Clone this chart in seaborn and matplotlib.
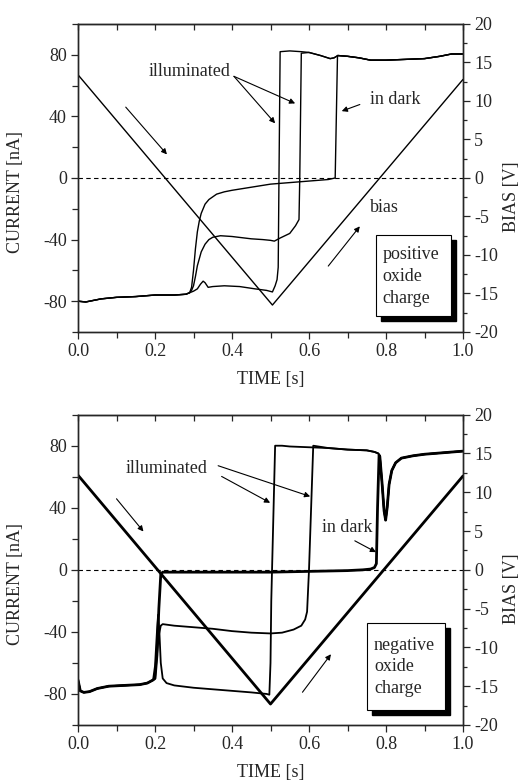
import numpy as np
import pandas as pd
import matplotlib
matplotlib.use("Agg")
import matplotlib.pyplot as plt
from matplotlib.patches import Rectangle
from matplotlib.ticker import MultipleLocator
import seaborn as sns

# ================================================================
# DATA
# ================================================================
# --- top panel: positive oxide charge ---
top_common_t = [0.0, 0.02, 0.04, 0.06, 0.10, 0.15, 0.20, 0.25, 0.28, 0.29]
top_common_i = [-80, -80.5, -79.5, -78.5, -77.5, -77, -76, -76, -75.5, -74.5]

top_dark_t = [0.295, 0.30, 0.305, 0.31, 0.315, 0.32, 0.33, 0.34, 0.36, 0.38, 0.40,
              0.45, 0.50, 0.55, 0.60, 0.65, 0.668, 0.671, 0.674]
top_dark_i = [-71, -60, -46, -35, -28, -23, -17, -14, -10.5, -9, -8,
              -6, -4, -3, -2, -1, 0, 40, 79.5]

top_ill2_t = [0.295, 0.30, 0.305, 0.31, 0.32, 0.33, 0.34, 0.35, 0.37, 0.40, 0.45,
              0.48, 0.50, 0.51, 0.525, 0.55, 0.565, 0.574, 0.576, 0.58]
top_ill2_i = [-73, -70, -64, -57, -48, -43, -40, -38.5, -37.5, -38, -39.5,
              -40, -40.5, -41, -39, -36, -31, -27, 0, 81]

top_ill1_t = [0.295, 0.30, 0.31, 0.318, 0.325, 0.33, 0.338, 0.35, 0.38, 0.42, 0.46,
              0.49, 0.505, 0.512, 0.517, 0.52, 0.522, 0.525]
top_ill1_i = [-74, -73.5, -72, -69, -67, -68, -71, -70.5, -70, -70.5, -72,
              -73, -74, -70, -66, -58, 0, 82]

top_plat_t = [0.525, 0.55, 0.58, 0.60, 0.63, 0.655, 0.665, 0.675, 0.70, 0.73, 0.76,
              0.80, 0.85, 0.90, 0.94, 0.97, 1.0]
top_plat_i = [82, 82.5, 82, 81.5, 79.5, 77.5, 78, 79.5, 79, 78, 76.5,
              76.5, 77, 77.5, 79, 80.5, 80.5]

top_bias_t = [0.0, 0.505, 1.0]
top_bias_v = [13.4, -16.5, 12.8]

# --- bottom panel: negative oxide charge ---
bot_common_t = [0.0, 0.006, 0.015, 0.03, 0.05, 0.08, 0.12, 0.16, 0.18, 0.195]
bot_common_i = [-71, -78, -79, -78.5, -76.5, -75, -74.5, -74, -73, -71]

bot_dark_t = [0.20, 0.205, 0.21, 0.215, 0.22, 0.25, 0.30, 0.40, 0.50, 0.60, 0.70,
              0.74, 0.76, 0.77, 0.775, 0.778, 0.782]
bot_dark_i = [-70, -55, -25, -3, -1.5, -1.5, -1.5, -1.5, -1.5, -1, -0.5,
              0, 0.5, 1.5, 4, 40, 74]

bot_ill2_t = [0.20, 0.205, 0.21, 0.215, 0.22, 0.25, 0.30, 0.35, 0.40, 0.45, 0.50,
              0.53, 0.56, 0.58, 0.59, 0.595, 0.60, 0.611]
bot_ill2_i = [-70, -55, -42, -36, -35, -36, -37, -38, -39.5, -40.5, -41,
              -40.5, -38.5, -36, -32, -27, 0, 80]

bot_ill1_t = [0.20, 0.205, 0.208, 0.211, 0.215, 0.22, 0.23, 0.25, 0.30, 0.35, 0.40,
              0.45, 0.49, 0.497, 0.50, 0.502, 0.512]
bot_ill1_i = [-62, -40, -29, -38, -60, -70, -73, -74.5, -76, -77, -78,
              -79, -80, -80.5, -60, -20, 80]

bot_plat_t = [0.512, 0.53, 0.55, 0.60, 0.65, 0.70, 0.75, 0.77, 0.78, 0.784, 0.79,
              0.795, 0.799, 0.803, 0.808, 0.815, 0.825, 0.84, 0.87, 0.90, 0.95, 1.0]
bot_plat_i = [80, 80, 79.5, 79, 78.5, 77.5, 77, 76, 75, 73, 55,
              38, 32, 40, 55, 64, 69, 72, 73.5, 74.5, 75.5, 76.5]

bot_bias_t = [0.0, 0.5, 1.0]
bot_bias_v = [12.2, -17.3, 12.1]


# ================================================================
# HELPERS
# ================================================================
def build_curve(common_t, common_i, t, i, plat_t, plat_i):
    # pre-rise part + own branch + shared plateau after its jump
    tt = list(common_t) + list(t)
    ii = list(common_i) + list(i)
    for pt, pi in zip(plat_t, plat_i):
        if pt > tt[-1]:
            tt.append(pt)
            ii.append(pi)
    return pd.DataFrame({"t": tt, "i": ii})


def arrow(ax, start, tip):
    ax.annotate("", xy=tip, xytext=start,
                arrowprops=dict(arrowstyle="-|>", lw=0.8, color="black",
                                mutation_scale=8, shrinkA=0, shrinkB=0))


def boxed_label(ax, x0, y0, x1, y1, tx, ty, text):
    dx, dy = 0.013, 0.016
    ax.add_patch(Rectangle((x0 + dx, y0 - dy), x1 - x0, y1 - y0, transform=ax.transAxes,
                           facecolor="black", edgecolor="black", zorder=5))
    ax.add_patch(Rectangle((x0, y0), x1 - x0, y1 - y0, transform=ax.transAxes,
                           facecolor="white", edgecolor="black", lw=0.8, zorder=6))
    ax.text(tx, ty, text, transform=ax.transAxes, ha="left", va="center",
            fontsize=13, linespacing=1.35, zorder=7)


def style_axes(ax, ax2):
    ax.set_xlim(0, 1)
    ax.set_ylim(-100, 100)
    ax2.set_ylim(-20, 20)
    ax.xaxis.set_major_locator(MultipleLocator(0.2))
    ax.xaxis.set_minor_locator(MultipleLocator(0.1))
    ax.yaxis.set_major_locator(MultipleLocator(40))
    ax.yaxis.set_minor_locator(MultipleLocator(20))
    ax2.yaxis.set_major_locator(MultipleLocator(5))
    ax2.yaxis.set_minor_locator(MultipleLocator(2.5))
    ax.set_yticks([-80, -40, 0, 40, 80])
    ax.set_xticks([0, 0.2, 0.4, 0.6, 0.8, 1.0])
    ax.set_xticklabels(["0.0", "0.2", "0.4", "0.6", "0.8", "1.0"])
    ax.tick_params(axis="both", which="major", direction="out", length=5,
                   width=0.9, labelsize=13, pad=3)
    ax.tick_params(axis="both", which="minor", direction="out", length=4, width=0.9)
    ax2.tick_params(axis="y", which="major", direction="out", length=5,
                    width=0.9, labelsize=13, pad=3)
    ax2.tick_params(axis="y", which="minor", direction="out", length=3, width=0.9)
    top = ax.secondary_xaxis("top")
    top.set_xticks([0, 0.2, 0.4, 0.6, 0.8, 1.0])
    top.xaxis.set_minor_locator(MultipleLocator(0.1))
    top.tick_params(axis="x", which="both", direction="in", length=4, width=0.9,
                    labeltop=False)
    for a in (ax, ax2):
        for s in a.spines.values():
            s.set_visible(True)
            s.set_linewidth(1.0)
    ax.axhline(0, ls=(0, (4, 3)), lw=0.8, color="black", zorder=1)
    ax.set_xlabel("TIME [s]", fontsize=13, labelpad=8)
    ax.set_ylabel("CURRENT [nA]", fontsize=13)
    ax2.set_ylabel("BIAS [V]", fontsize=13)
    ax.yaxis.set_label_coords(-0.14, 0.455)
    ax2.yaxis.set_label_coords(1.105, 0.44)


# ================================================================
# FIGURE
# ================================================================
sns.set_style("ticks")
plt.rcParams["font.family"] = ["Liberation Serif", "DejaVu Serif"]
plt.rcParams["axes.unicode_minus"] = False

fig = plt.figure(figsize=(5.2, 7.83), dpi=100)
ax_top = fig.add_axes([0.15, 0.5760, 0.7404, 0.3934])
ax_bot = fig.add_axes([0.15, 0.0741, 0.7404, 0.3963])

# ---------------- top panel ----------------
ax_top2 = ax_top.twinx()
for t, i in [(top_dark_t, top_dark_i), (top_ill2_t, top_ill2_i), (top_ill1_t, top_ill1_i)]:
    df = build_curve(top_common_t, top_common_i, t, i, top_plat_t, top_plat_i)
    sns.lineplot(data=df, x="t", y="i", ax=ax_top, color="black", lw=1.0,
                 sort=False, estimator=None)
bias_top = pd.DataFrame({"t": top_bias_t, "v": top_bias_v})
sns.lineplot(data=bias_top, x="t", y="v", ax=ax_top2, color="black", lw=1.0,
             sort=False, estimator=None)
style_axes(ax_top, ax_top2)

ax_top.text(0.291, 69, "illuminated", fontsize=13, ha="center", va="center")
arrow(ax_top, (0.405, 66), (0.564, 48.4))
arrow(ax_top, (0.405, 66), (0.512, 35.5))
ax_top.text(0.825, 51, "in dark", fontsize=13, ha="center", va="center")
arrow(ax_top, (0.732, 47.7), (0.685, 43.4))
ax_top.text(0.795, -19.4, "bias", fontsize=13, ha="center", va="center")
arrow(ax_top, (0.124, 46), (0.231, 15.3))
arrow(ax_top, (0.650, -57.2), (0.732, -31.4))
boxed_label(ax_top, 0.774, 0.052, 0.969, 0.315, 0.791, 0.18, "positive\noxide\ncharge")

# ---------------- bottom panel ----------------
ax_bot2 = ax_bot.twinx()
df = build_curve(bot_common_t, bot_common_i, bot_dark_t, bot_dark_i, bot_plat_t, bot_plat_i)
sns.lineplot(data=df, x="t", y="i", ax=ax_bot, color="black", lw=2.0,
             sort=False, estimator=None)
for t, i in [(bot_ill2_t, bot_ill2_i), (bot_ill1_t, bot_ill1_i)]:
    df = build_curve(bot_common_t, bot_common_i, t, i, bot_plat_t, bot_plat_i)
    sns.lineplot(data=df, x="t", y="i", ax=ax_bot, color="black", lw=1.3,
                 sort=False, estimator=None)
bias_bot = pd.DataFrame({"t": bot_bias_t, "v": bot_bias_v})
sns.lineplot(data=bias_bot, x="t", y="v", ax=ax_bot2, color="black", lw=2.0,
             sort=False, estimator=None)
style_axes(ax_bot, ax_bot2)

ax_bot.text(0.229, 65, "illuminated", fontsize=13, ha="center", va="center")
arrow(ax_bot, (0.364, 67.1), (0.603, 47.3))
arrow(ax_bot, (0.373, 60.2), (0.499, 43.2))
ax_bot.text(0.70, 27, "in dark", fontsize=13, ha="center", va="center")
arrow(ax_bot, (0.719, 18.7), (0.774, 11.4))
arrow(ax_bot, (0.10, 45.8), (0.17, 24.7))
arrow(ax_bot, (0.583, -78.9), (0.657, -54.4))
boxed_label(ax_bot, 0.751, 0.048, 0.953, 0.328, 0.769, 0.188, "negative\noxide\ncharge")

fig.savefig("out.png", dpi=100)
